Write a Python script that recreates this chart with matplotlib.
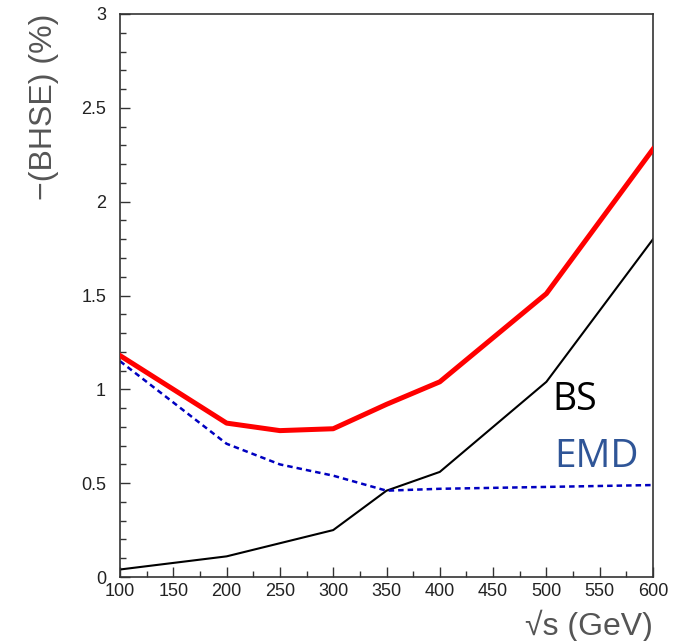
import matplotlib
matplotlib.use("Agg")
import matplotlib.pyplot as plt
from matplotlib.ticker import MultipleLocator

# Centre-of-mass energies (GeV)
energy = [100, 200, 250, 300, 350, 400, 500, 600]

# Total correction, beamstrahlung (BS) and EM deflection (EMD) contributions (%)
total = [1.18, 0.82, 0.78, 0.79, 0.92, 1.04, 1.51, 2.28]
bs = [0.04, 0.11, 0.18, 0.25, 0.46, 0.56, 1.04, 1.80]
emd = [1.15, 0.71, 0.60, 0.54, 0.46, 0.47, 0.48, 0.49]

x_ticks = [100, 150, 200, 250, 300, 350, 400, 450, 500, 550, 600]
y_ticks = [0, 0.5, 1, 1.5, 2, 2.5, 3]
y_tick_labels = ["0", "0.5", "1", "1.5", "2", "2.5", "3"]

plt.rcParams["font.family"] = ["Liberation Sans", "DejaVu Sans"]

fig = plt.figure(figsize=(6.8, 6.41), dpi=100)
ax = fig.add_axes([120 / 680, 64 / 641, 533 / 680, 563 / 641])

ax.plot(energy, total, color="#ff0000", lw=3.6, zorder=3)
ax.plot(energy, bs, color="black", lw=1.5, zorder=2)
ax.plot(energy, emd, color="#0000c0", lw=1.8, linestyle=(0, (2.2, 1.6)), zorder=2)

ax.set_xlim(100, 600)
ax.set_ylim(0, 3)
ax.set_xticks(x_ticks)
ax.set_yticks(y_ticks)
ax.set_yticklabels(y_tick_labels)
ax.xaxis.set_minor_locator(MultipleLocator(25))
ax.yaxis.set_minor_locator(MultipleLocator(0.1))
ax.tick_params(which="both", direction="in", top=False, right=False,
               labelsize=13, width=1, color="#333333", labelcolor="#222222")
ax.tick_params(which="major", length=7.2)
ax.tick_params(which="minor", length=4)
ax.tick_params(axis="x", pad=4)
ax.tick_params(axis="y", pad=10)
for s in ax.spines.values():
    s.set_linewidth(1.2)
    s.set_color("#333333")

ax.set_ylabel("\u2212(BHSE) (%)", fontsize=23, color="#555555", loc="top", labelpad=16)
ax.set_xlabel("\u221as (GeV)", fontsize=23, color="#555555", loc="right", labelpad=7)

ax.text(0.812, 0.297, "BS", transform=ax.transAxes, fontsize=27,
        family=["Open Sans", "DejaVu Sans"], color="black", ha="left", va="baseline")
ax.text(0.815, 0.195, "EMD", transform=ax.transAxes, fontsize=28,
        family=["Open Sans", "DejaVu Sans"], color="#2f5597", ha="left", va="baseline")

fig.savefig("out.png", dpi=100)
